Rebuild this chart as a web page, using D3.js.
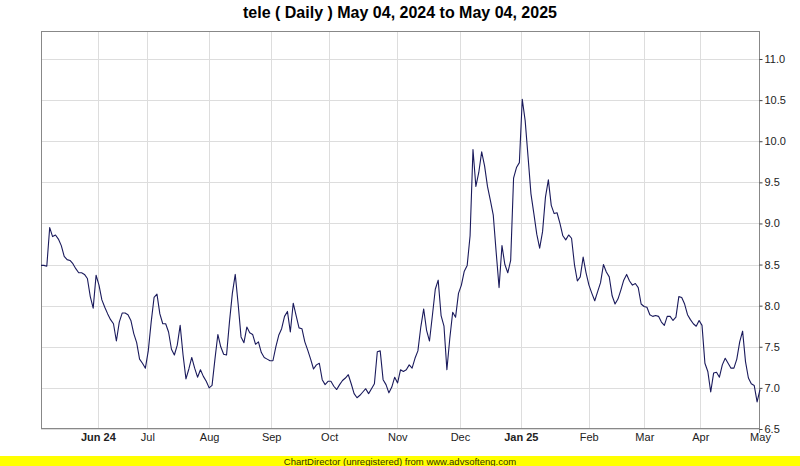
<!DOCTYPE html>
<html><head><meta charset="utf-8">
<script src="https://cdn.jsdelivr.net/npm/d3@7"></script>
<style>html,body{margin:0;padding:0;background:#fff;}svg{display:block;}</style>
</head><body>
<svg id="c" width="800" height="466"></svg>
<script>
const titleText = "tele ( Daily ) May 04, 2024 to May 04, 2025";
const footerText = "ChartDirector (unregistered) from www.advsofteng.com";

const closes = [
 8.49,8.49,8.48,8.95,8.84,8.86,8.81,8.73,8.60,8.56,
 8.55,8.51,8.45,8.40,8.40,8.38,8.33,8.11,7.97,8.37,
 8.25,8.07,7.98,7.90,7.83,7.78,7.57,7.80,7.91,7.91,
 7.89,7.82,7.66,7.55,7.35,7.30,7.24,7.45,7.80,8.10,
 8.14,7.90,7.78,7.78,7.68,7.47,7.40,7.52,7.76,7.40,
 7.11,7.23,7.37,7.24,7.13,7.22,7.14,7.08,7.00,7.03,
 7.35,7.65,7.50,7.41,7.40,7.80,8.15,8.38,8.02,7.62,
 7.55,7.74,7.67,7.65,7.53,7.56,7.43,7.37,7.35,7.33,
 7.33,7.50,7.64,7.72,7.87,7.93,7.68,8.03,7.88,7.73,
 7.72,7.56,7.46,7.35,7.23,7.28,7.30,7.10,7.04,7.08,
 7.08,7.02,6.98,7.04,7.09,7.12,7.16,7.05,6.93,6.88,
 6.91,6.95,6.99,6.93,6.99,7.05,7.44,7.45,7.10,7.04,
 6.94,7.01,7.13,7.06,7.22,7.20,7.22,7.28,7.24,7.36,
 7.45,7.74,7.96,7.70,7.57,7.88,8.20,8.31,7.88,7.75,
 7.22,7.60,7.92,7.86,8.15,8.25,8.42,8.49,8.85,9.90,
 9.45,9.62,9.87,9.70,9.45,9.28,9.10,8.65,8.22,8.73,
 8.50,8.40,8.55,9.55,9.68,9.74,10.51,10.25,9.81,9.36,
 9.12,8.87,8.70,8.90,9.32,9.53,9.22,9.12,9.13,9.00,
 8.85,8.80,8.86,8.82,8.50,8.30,8.35,8.59,8.40,8.25,
 8.15,8.06,8.17,8.28,8.50,8.41,8.35,8.12,8.02,8.08,
 8.19,8.31,8.38,8.30,8.25,8.27,8.22,8.02,7.99,7.98,
 7.89,7.87,7.88,7.87,7.80,7.76,7.87,7.87,7.82,7.86,
 8.11,8.10,8.02,7.89,7.83,7.78,7.75,7.82,7.76,7.30,
 7.20,6.95,7.18,7.19,7.13,7.28,7.36,7.30,7.24,7.24,
 7.35,7.56,7.69,7.32,7.12,7.05,7.03,6.83,6.98
];

const monthLabels = ["Jun 24","Jul","Aug","Sep","Oct","Nov","Dec","Jan 25","Feb","Mar","Apr","May"];
const monthIndex  = [19.6, 36.7, 58.0, 79.4, 99.4, 122.9, 144.5, 165.5, 188.9, 208.1, 227.4, 248];
const yearLabels  = ["Jun 24","Jan 25"];
const yTicks = [6.5,7.0,7.5,8.0,8.5,9.0,9.5,10.0,10.5,11.0];

const svg = d3.select("#c");
const L = 41, R = 760, T = 31, B = 429;
const font = "'Liberation Sans', Arial, sans-serif";

const x = d3.scaleLinear().domain([0, closes.length - 1]).range([L, R]);
const y = d3.scaleLinear().domain([6.5, 11.0]).range([B, 59]);

// plot background
svg.append("rect").attr("x", L).attr("y", T).attr("width", R - L).attr("height", B - T).attr("fill", "#fff");

// grid
const g = svg.append("g").attr("shape-rendering", "crispEdges");
g.selectAll("line.h").data(yTicks).join("line")
  .attr("x1", L).attr("x2", R)
  .attr("y1", d => Math.round(y(d)) + 0.5).attr("y2", d => Math.round(y(d)) + 0.5)
  .attr("stroke", "#dddddd");
g.selectAll("line.v").data(monthIndex.slice(0, -1)).join("line")
  .attr("y1", T).attr("y2", B)
  .attr("x1", d => Math.round(x(d)) + 0.5).attr("x2", d => Math.round(x(d)) + 0.5)
  .attr("stroke", "#dddddd");

// border
svg.append("rect").attr("x", L + 0.5).attr("y", T + 0.5).attr("width", R - L - 1).attr("height", B - T - 1)
  .attr("fill", "none").attr("stroke", "#888").attr("shape-rendering", "crispEdges");

// right axis
const yAxis = d3.axisRight(y).tickValues(yTicks).tickFormat(d3.format(".1f")).tickSize(3).tickPadding(2);
const ya = svg.append("g").attr("transform", `translate(${R - 0.5},0)`).call(yAxis);
ya.select(".domain").attr("stroke", "#888").attr("d", `M0,${T}V${B + 4}`);
ya.selectAll(".tick line").attr("stroke", "#444");
ya.selectAll("text").attr("font-family", font).attr("font-size", 11).attr("fill", "#222");

// bottom axis
const xAxis = d3.axisBottom(x).tickValues(monthIndex).tickFormat((d, i) => monthLabels[i]).tickSize(0).tickPadding(4);
const xa = svg.append("g").attr("transform", `translate(0,${B})`).call(xAxis);
xa.select(".domain").remove();
xa.selectAll("text").attr("font-family", font).attr("font-size", 11).attr("fill", "#222")
  .attr("font-weight", (d, i) => yearLabels.includes(monthLabels[i]) ? "bold" : "normal");

// line
const line = d3.line().x((d, i) => x(i)).y(d => y(d));
svg.append("path").datum(closes).attr("d", line).attr("fill", "none")
  .attr("stroke", "#1a1a5c").attr("stroke-width", 1.1).attr("stroke-linejoin", "round");

// title
svg.append("text").attr("x", 400).attr("y", 18).attr("text-anchor", "middle")
  .attr("font-family", "'Liberation Sans Narrow', 'Liberation Sans', Arial, sans-serif")
  .attr("font-weight", "bold").attr("font-size", 16).attr("fill", "#000").text(titleText);

// footer
svg.append("rect").attr("x", 0).attr("y", 456).attr("width", 800).attr("height", 10).attr("fill", "#ffff00");
svg.append("text").attr("x", 400).attr("y", 465).attr("text-anchor", "middle")
  .attr("font-family", font).attr("font-size", 9.5).attr("fill", "#333300").text(footerText);
</script>
</body></html>
